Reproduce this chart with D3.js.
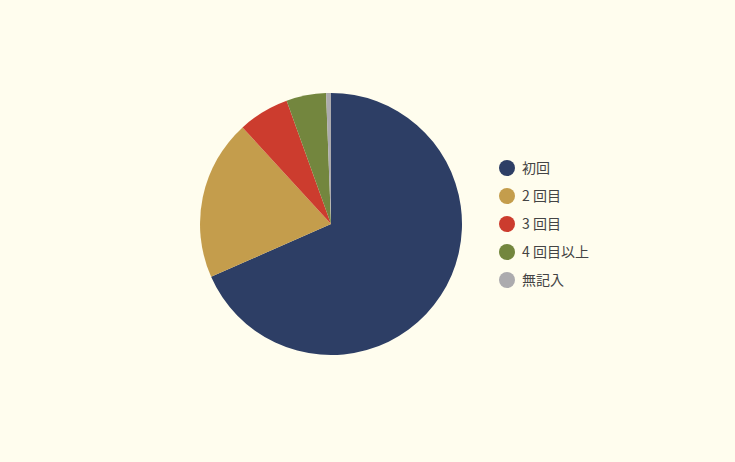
<!DOCTYPE html>
<html><head><meta charset="utf-8">
<script src="https://cdn.jsdelivr.net/npm/d3@7"></script>
<style>html,body{margin:0;padding:0;background:#fffdee;}</style>
</head><body>
<svg id="c" width="735" height="462"></svg>
<script>
const categories = ["初回", "2 回目", "3 回目", "4 回目以上", "無記入"];
const values = [68.4, 19.8, 6.3, 4.9, 0.6];
const colors = ["#2d3e65", "#c49d4c", "#cc3c2e", "#73863e", "#acabae"];

const svg = d3.select("#c");
svg.append("rect").attr("width",735).attr("height",462).attr("fill","#fffdee");
const cx = 331, cy = 224, r = 131;
const pie = d3.pie().sort(null).value(d => d)(values);
const arc = d3.arc().innerRadius(0).outerRadius(r);
const g = svg.append("g").attr("transform", `translate(${cx},${cy})`);
g.selectAll("path").data(pie).join("path")
  .attr("d", arc).attr("fill", (d,i) => colors[i]);

const lg = svg.append("g").attr("transform","translate(507,168)");
const rows = lg.selectAll("g").data(categories).join("g")
  .attr("transform", (d,i) => `translate(0,${i*28})`);
rows.append("circle").attr("r", 8).attr("fill", (d,i) => colors[i]);
rows.append("text").attr("x", 15).attr("y", 0).attr("dy","0.36em")
  .attr("font-family","'Noto Sans CJK JP', 'Noto Sans', sans-serif")
  .attr("font-size", 14).attr("fill", "#444").text(d => d);
</script>
</body></html>
